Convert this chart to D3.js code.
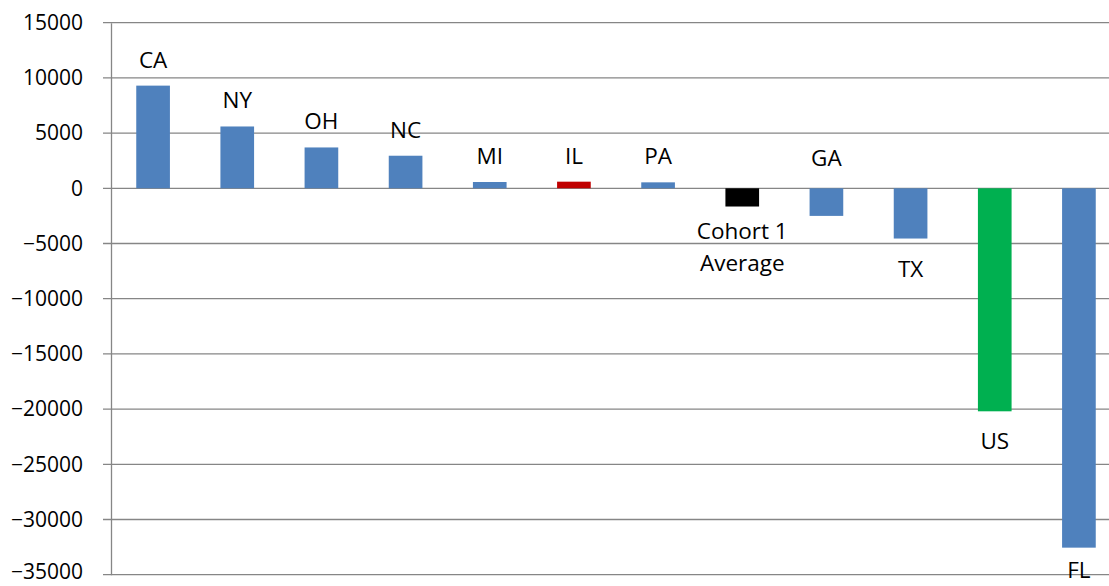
<!DOCTYPE html>
<html>
<head>
<meta charset="utf-8">
<script src="https://cdn.jsdelivr.net/npm/d3@7"></script>
<style>
  body { margin: 0; background: #fff; }
  text { font-family: "Open Sans", sans-serif; fill: #000; }
</style>
</head>
<body>
<script>
const w = 1109;
const h = 586;

// data
const categories = ["CA", "NY", "OH", "NC", "MI", "IL", "PA", "Cohort 1 Average", "GA", "TX", "US", "FL"];
const values = [9300, 5600, 3700, 2950, 570, 600, 540, -1650, -2500, -4550, -20200, -32550];
const barColors = ["#4F81BD", "#4F81BD", "#4F81BD", "#4F81BD", "#4F81BD", "#C00000", "#4F81BD",
  "#000000", "#4F81BD", "#4F81BD", "#00B050", "#4F81BD"];
const yTicks = [15000, 10000, 5000, 0, -5000, -10000, -15000, -20000, -25000, -30000, -35000];

const data = categories.map((c, i) => ({ name: c, value: values[i], color: barColors[i] }));

const svg = d3
  .select("body")
  .append("svg")
  .attr("width", w)
  .attr("height", h);

// plot runs past the right edge of the picture
const x = d3.scaleBand().domain(categories).range([111, 1121]).paddingInner(0.6).paddingOuter(0.3);
const y = d3.scaleLinear().domain([-35000, 15000]).range([574.7, 22.7]);

// gridlines
svg
  .append("g")
  .selectAll("line")
  .data(yTicks)
  .enter()
  .append("line")
  .attr("x1", 103)
  .attr("x2", w)
  .attr("y1", (d) => y(d))
  .attr("y2", (d) => y(d))
  .attr("stroke", "#868686")
  .attr("stroke-width", 1.3);

// vertical axis
const yAxis = d3.axisLeft(y).tickValues(yTicks).tickSize(0).tickPadding(28).tickFormat(d3.format("d"));
svg
  .append("g")
  .attr("transform", "translate(111,0)")
  .call(yAxis)
  .call((g) => g.select(".domain").attr("stroke", "#868686").attr("stroke-width", 1.3))
  .call((g) =>
    g
      .selectAll("text")
      .attr("font-size", 21)
      .attr("font-family", "'Open Sans', sans-serif")
      .attr("fill", "#000")
      .attr("dy", (d) => (d === -35000 ? "0.2em" : "0.32em"))
  );

// bars
svg
  .append("g")
  .selectAll("rect")
  .data(data)
  .enter()
  .append("rect")
  .attr("x", (d) => x(d.name))
  .attr("width", x.bandwidth())
  .attr("y", (d) => y(Math.max(0, d.value)))
  .attr("height", (d) => Math.abs(y(d.value) - y(0)))
  .attr("fill", (d) => d.color);

// labels: above positive bars, below negative ones (GA sits above the axis)
const labels = svg
  .append("g")
  .selectAll("text")
  .data(data)
  .enter()
  .append("text")
  .attr("text-anchor", "middle")
  .attr("font-size", 22.5)
  .attr("x", (d) => x(d.name) + x.bandwidth() / 2)
  .attr("y", (d) => {
    if (d.name === "GA") return y(0) - 22;
    if (d.value >= 0) return y(d.value) - 18;
    if (d.name === "FL") return y(d.value) + 30;
    return y(d.value) + (d.name === "TX" || d.name === "US" ? 38 : 32);
  });

labels
  .selectAll("tspan")
  .data((d) => (d.name === "Cohort 1 Average" ? ["Cohort 1", "Average"] : [d.name]))
  .enter()
  .append("tspan")
  .attr("x", function () {
    return d3.select(this.parentNode).attr("x");
  })
  .attr("dy", (d, i) => (i === 0 ? 0 : 32))
  .text((d) => d);
</script>
</body>
</html>
